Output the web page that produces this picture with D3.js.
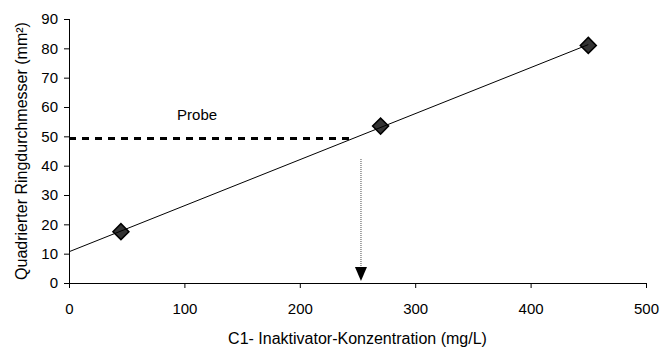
<!DOCTYPE html>
<html>
<head>
<meta charset="utf-8">
<script src="https://cdn.jsdelivr.net/npm/d3@7"></script>
<style>
  body { margin: 0; background: #fff; }
  text { font-family: "Liberation Sans", Arial, sans-serif; }
</style>
</head>
<body>
<svg id="chart" width="672" height="347"></svg>
<script>
// ---- data ----
const concentrations = [45, 270, 450];          // mg/L
const squaredDiameters = [17.5, 53.5, 81];      // mm²
const xTicks = [0, 100, 200, 300, 400, 500];
const yTicks = [0, 10, 20, 30, 40, 50, 60, 70, 80, 90];
const probeValue = 49.3;        // measured sample (mm²)
const probeConcentration = 253; // read-off concentration (mg/L)
const probeLabel = "Probe";
const xTitle = "C1- Inaktivator-Konzentration (mg/L)";
const yTitle = "Quadrierter Ringdurchmesser  (mm²)";

const svg = d3.select("#chart");
const x = d3.scaleLinear().domain([0, 500]).range([69, 646]);
const y = d3.scaleLinear().domain([0, 90]).range([283, 19]);

// linear regression
const n = concentrations.length;
const mx = d3.mean(concentrations), my = d3.mean(squaredDiameters);
let sxy = 0, sxx = 0;
for (let i = 0; i < n; i++) {
  sxy += (concentrations[i] - mx) * (squaredDiameters[i] - my);
  sxx += (concentrations[i] - mx) ** 2;
}
const slope = sxy / sxx, intercept = my - slope * mx;
const probeX = (probeValue - intercept) / slope;

// axes
const xAxis = d3.axisBottom(x).tickValues(xTicks).tickSize(5).tickSizeOuter(0).tickPadding(15);
const yAxis = d3.axisLeft(y).tickValues(yTicks).tickSize(5).tickSizeOuter(0).tickPadding(6);

const gx = svg.append("g").attr("transform", `translate(0,${y(0)})`).call(xAxis);
const gy = svg.append("g").attr("transform", `translate(${x(0)},0)`).call(yAxis);
[gx, gy].forEach(g => {
  g.selectAll("path,line").attr("stroke", "#000").attr("stroke-width", 1);
  g.selectAll("text").attr("font-size", 15).attr("fill", "#000")
    .style("font-family", '"Liberation Sans", Arial, sans-serif');
});
gy.select(".domain").attr("d", `M0.5,${y(90)}V${y(0) + 5}`);

// axis titles
svg.append("text").attr("x", (x(0) + x(500)) / 2).attr("y", 344)
  .attr("text-anchor", "middle").attr("font-size", 16).text(xTitle);
svg.append("text")
  .attr("transform", `translate(27,${(y(0) + y(90)) / 2}) rotate(-90)`)
  .attr("text-anchor", "middle").attr("font-size", 16).text(yTitle);

// probe horizontal dashed line
svg.append("line")
  .attr("x1", x(0)).attr("x2", x(probeX))
  .attr("y1", y(probeValue)).attr("y2", y(probeValue))
  .attr("stroke", "#000").attr("stroke-width", 3).attr("stroke-dasharray", "7,6");

// probe label
svg.append("text").attr("x", x(111)).attr("y", y(55.4))
  .attr("text-anchor", "middle").attr("font-size", 15).text(probeLabel);

// vertical dotted arrow
const ax = x(probeConcentration);
svg.append("line")
  .attr("x1", ax).attr("x2", ax)
  .attr("y1", 159).attr("y2", 268)
  .attr("stroke", "#888").attr("stroke-width", 1.5).attr("stroke-dasharray", "1,1");
svg.append("path")
  .attr("d", `M${ax - 6},267 L${ax + 6},267 L${ax},281 Z`)
  .attr("fill", "#000");

// diamonds
const sym = d3.symbol().type(d3.symbolSquare).size(128);
svg.selectAll(".pt").data(concentrations).enter().append("path")
  .attr("class", "pt")
  .attr("d", sym)
  .attr("transform", (d, i) => `translate(${x(d)},${y(squaredDiameters[i])}) rotate(45)`)
  .attr("fill", "#333").attr("stroke", "#000").attr("stroke-width", 1.5);

// regression line
svg.append("line")
  .attr("x1", x(0)).attr("y1", y(intercept))
  .attr("x2", x(d3.max(concentrations))).attr("y2", y(intercept + slope * d3.max(concentrations)))
  .attr("stroke", "#000").attr("stroke-width", 1);
</script>
</body>
</html>
